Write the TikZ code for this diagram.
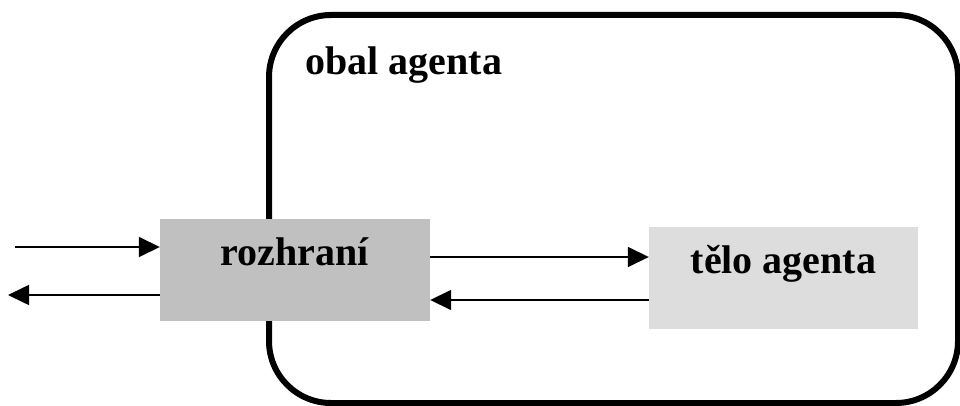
\documentclass[tikz,border=0pt]{standalone}
\usepackage{fontspec}
\setmainfont{Liberation Serif}
\usetikzlibrary{arrows.meta}
\begin{document}
\begin{tikzpicture}[x=1pt,y=-1pt,
  every node/.style={font=\fontsize{40}{44}\selectfont\bfseries},
  block/.style={rectangle,draw=none,minimum width=270pt,minimum height=102pt,
    inner sep=0pt,text height=20pt,text depth=30pt},
  flow/.style={line width=1.6pt,-{Triangle[length=21pt 0,width=20pt 0]}},
  shell/.style={line width=6pt,rounded corners=62pt}]
  \path[use as bounding box] (0,0) rectangle (960,406);
  \clip (0,0) rectangle (960,406);

  % agent wrapper
  \draw[shell] (269,15) rectangle (958,403);
  \node[anchor=base west] (obal) at (302,75) {obal agenta};

  % interface and body
  \node[block,fill={rgb,255:red,192;green,192;blue,192}] (rozhrani) at (295,270) {rozhraní};
  \node[block,fill={rgb,255:red,221;green,221;blue,221},minimum width=269pt] (telo) at (783.5,278) {tělo agenta};

  % outside world
  \coordinate (inStart) at (15,247);
  \coordinate (outEnd) at (8,295);

  \draw[flow] (inStart) -- (rozhrani.west |- inStart);
  \draw[flow] (rozhrani.west |- outEnd) -- (outEnd);

  % interface <-> body
  \draw[flow] (rozhrani.east |- 0,257) -- (telo.west |- 0,257);
  \draw[flow] (telo.west |- 0,300) -- (rozhrani.east |- 0,300);
\end{tikzpicture}
\end{document}
